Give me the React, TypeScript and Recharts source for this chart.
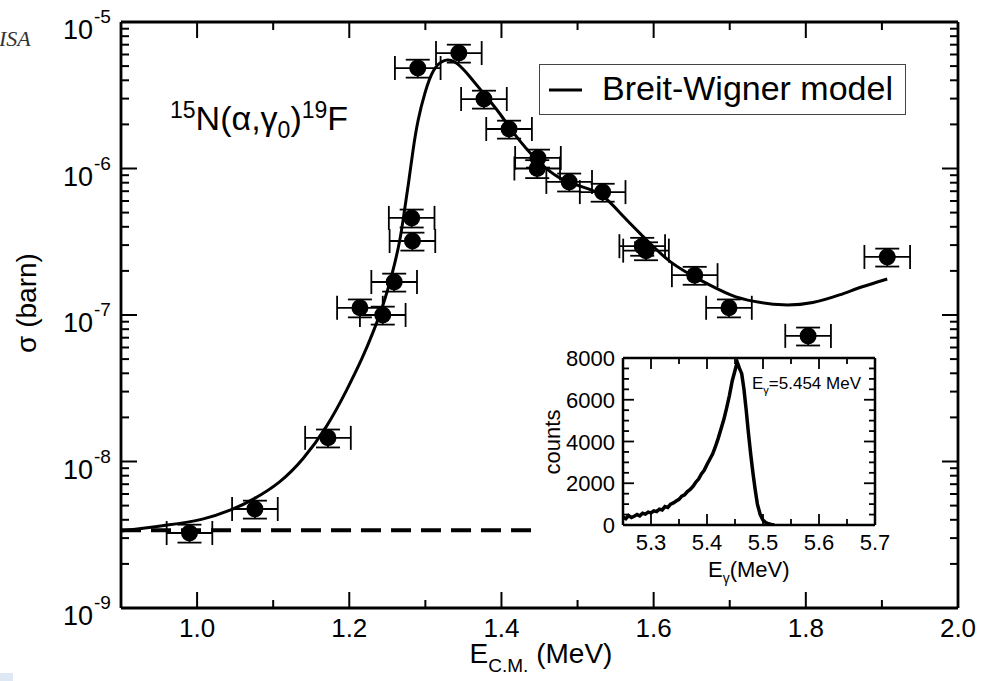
import React from 'react';
import { ComposedChart, LineChart, Line, Scatter, XAxis, YAxis, ErrorBar, Legend } from 'recharts';

const FONT = '"Liberation Sans", Arial, Helvetica, sans-serif';

// ---- measured cross sections (main panel) ----
const energyMeV = [0.99, 1.076, 1.172, 1.214, 1.244, 1.259, 1.283, 1.282, 1.29, 1.344, 1.377, 1.41, 1.448, 1.447, 1.489, 1.533, 1.585, 1.59, 1.654, 1.699, 1.803, 1.907];
const sigmaBarn = [3.25e-9, 4.74e-9, 1.45e-8, 1.12e-7, 1.0e-7, 1.68e-7, 3.2e-7, 4.6e-7, 4.85e-6, 6.14e-6, 2.98e-6, 1.86e-6, 1.18e-6, 1.0e-6, 8.1e-7, 6.9e-7, 2.95e-7, 2.75e-7, 1.87e-7, 1.12e-7, 7.2e-8, 2.49e-7];
const energyErrMeV = [0.03, 0.03, 0.03, 0.03, 0.03, 0.03, 0.03, 0.03, 0.03, 0.03, 0.03, 0.03, 0.03, 0.03, 0.03, 0.03, 0.03, 0.03, 0.03, 0.03, 0.03, 0.03];
const sigmaRelErr = [0.14, 0.14, 0.14, 0.14, 0.14, 0.14, 0.14, 0.14, 0.14, 0.14, 0.14, 0.14, 0.14, 0.14, 0.14, 0.14, 0.14, 0.14, 0.14, 0.14, 0.14, 0.14];

// ---- Breit-Wigner model curve ----
const modelEnergyMeV = [0.9, 0.964, 1.008, 1.046, 1.073, 1.109, 1.139, 1.171, 1.197, 1.218, 1.231, 1.244, 1.257, 1.267, 1.272, 1.278, 1.284, 1.29, 1.299, 1.31, 1.326, 1.342, 1.359, 1.376, 1.398, 1.415, 1.447, 1.477, 1.507, 1.533, 1.56, 1.591, 1.621, 1.661, 1.704, 1.73, 1.77, 1.81, 1.845, 1.875, 1.907];
const modelSigmaBarn = [3.36e-9, 3.69e-9, 3.99e-9, 4.67e-9, 5.46e-9, 7.13e-9, 1.02e-8, 1.72e-8, 3.08e-8, 5.17e-8, 7.54e-8, 1.13e-7, 1.94e-7, 3.25e-7, 4.97e-7, 7.96e-7, 1.38e-6, 2.14e-6, 3.28e-6, 4.85e-6, 5.68e-6, 5.33e-6, 4.21e-6, 3.28e-6, 2.39e-6, 1.75e-6, 1.11e-6, 8.35e-7, 7.48e-7, 6.8e-7, 4.67e-7, 3.25e-7, 2.26e-7, 1.73e-7, 1.33e-7, 1.24e-7, 1.15e-7, 1.2e-7, 1.37e-7, 1.57e-7, 1.76e-7];

// ---- background level (dashed) ----
const backgroundEnergyMeV = [0.9, 1.44];
const backgroundSigmaBarn = [3.4e-9, 3.4e-9];

// ---- main axis ticks ----
const xMajorTicks = [1.0, 1.2, 1.4, 1.6, 1.8, 2.0];
const xMinorTicks = [1.1, 1.3, 1.5, 1.7, 1.9];
const yDecadeTicks = [1e-9, 1e-8, 1e-7, 1e-6, 1e-5];
const yDecadeExponents = ['-9', '-8', '-7', '-6', '-5'];
const yMinorMantissas = [2, 3, 4, 5, 6, 7, 8, 9];

// ---- inset gamma spectrum ----
const spectrumEnergyMeV = [5.25, 5.255, 5.26, 5.265, 5.27, 5.275, 5.28, 5.285, 5.29, 5.295, 5.3, 5.305, 5.31, 5.315, 5.32, 5.325, 5.33, 5.335, 5.34, 5.345, 5.35, 5.355, 5.36, 5.365, 5.37, 5.375, 5.38, 5.385, 5.39, 5.395, 5.4, 5.405, 5.41, 5.415, 5.42, 5.425, 5.43, 5.435, 5.44, 5.445, 5.45, 5.454, 5.458, 5.462, 5.466, 5.47, 5.474, 5.478, 5.482, 5.486, 5.49, 5.495, 5.5, 5.505, 5.51, 5.515, 5.52];
const spectrumCounts = [380, 300, 450, 360, 420, 500, 440, 560, 520, 620, 580, 680, 640, 760, 720, 880, 840, 1000, 1060, 1150, 1230, 1380, 1450, 1600, 1700, 1850, 2050, 2200, 2450, 2620, 2900, 3150, 3400, 3750, 4150, 4600, 5050, 5600, 6200, 6900, 7400, 7800, 7500, 7250, 6500, 5500, 4400, 3400, 2500, 1700, 1000, 500, 230, 120, 60, 30, 10];
const insetXMajorTicks = [5.3, 5.4, 5.5, 5.6, 5.7];
const insetXMinorTicks = [5.35, 5.45, 5.55, 5.65];
const insetYMajorTicks = [0, 2000, 4000, 6000, 8000];
const insetYMinorTicks = [500, 1000, 1500, 2500, 3000, 3500, 4500, 5000, 5500, 6500, 7000, 7500];

// ---- tables built from the arrays ----
const pointData = energyMeV.map((e, i) => ({
  x: e,
  y: sigmaBarn[i],
  ex: energyErrMeV[i],
  ey: [sigmaBarn[i] * sigmaRelErr[i], sigmaBarn[i] * sigmaRelErr[i]],
}));
const modelData = modelEnergyMeV.map((e, i) => ({ x: e, y: modelSigmaBarn[i] }));
const backgroundData = backgroundEnergyMeV.map((e, i) => ({ x: e, y: backgroundSigmaBarn[i] }));
const spectrumData = spectrumEnergyMeV.map((e, i) => ({ x: e, y: spectrumCounts[i] }));

const xTicks = [...xMajorTicks, ...xMinorTicks].sort((a, b) => a - b);
const yTicks: number[] = [];
yDecadeTicks.forEach((d, i) => {
  yTicks.push(d);
  if (i < yDecadeTicks.length - 1) yMinorMantissas.forEach((m) => yTicks.push(d * m));
});
const insetXTicks = [...insetXMajorTicks, ...insetXMinorTicks].sort((a, b) => a - b);
const insetYTicks = [...insetYMajorTicks, ...insetYMinorTicks].sort((a, b) => a - b);

// ---- tick renderers (inward ticks) ----
const MainBottomTick = (p: any) => {
  const v = p.payload.value;
  const major = xMajorTicks.indexOf(v) >= 0;
  return (
    <g>
      <line x1={p.x} y1={p.y} x2={p.x} y2={p.y - (major ? 16 : 8)} stroke="#000" strokeWidth={2} />
      {major && (
        <text x={p.x} y={p.y + 29} textAnchor="middle" fontSize={26} fontFamily={FONT} fill="#000">
          {v.toFixed(1)}
        </text>
      )}
    </g>
  );
};
const MainTopTick = (p: any) => {
  const major = xMajorTicks.indexOf(p.payload.value) >= 0;
  return <line x1={p.x} y1={p.y} x2={p.x} y2={p.y + (major ? 16 : 8)} stroke="#000" strokeWidth={2} />;
};
const MainLeftTick = (p: any) => {
  const i = yDecadeTicks.indexOf(p.payload.value);
  const major = i >= 0;
  return (
    <g>
      <line x1={p.x} y1={p.y} x2={p.x + (major ? 16 : 8)} y2={p.y} stroke="#000" strokeWidth={2} />
      {major && (
        <g>
          <text x={p.x - 28} y={p.y + 17} textAnchor="end" fontSize={27} fontFamily={FONT} fill="#000">10</text>
          <text x={p.x - 27} y={p.y + 1} textAnchor="start" fontSize={19} fontFamily={FONT} fill="#000">{yDecadeExponents[i]}</text>
        </g>
      )}
    </g>
  );
};
const MainRightTick = (p: any) => {
  const major = yDecadeTicks.indexOf(p.payload.value) >= 0;
  return <line x1={p.x} y1={p.y} x2={p.x - (major ? 16 : 8)} y2={p.y} stroke="#000" strokeWidth={2} />;
};

const InsetBottomTick = (p: any) => {
  const v = p.payload.value;
  const major = insetXMajorTicks.indexOf(v) >= 0;
  return (
    <g>
      <line x1={p.x} y1={p.y} x2={p.x} y2={p.y - (major ? 11 : 6)} stroke="#000" strokeWidth={1.8} />
      {major && (
        <text x={p.x} y={p.y + 25} textAnchor="middle" fontSize={22} fontFamily={FONT} fill="#000">
          {v.toFixed(1)}
        </text>
      )}
    </g>
  );
};
const InsetTopTick = (p: any) => {
  const major = insetXMajorTicks.indexOf(p.payload.value) >= 0;
  return <line x1={p.x} y1={p.y} x2={p.x} y2={p.y + (major ? 11 : 6)} stroke="#000" strokeWidth={1.8} />;
};
const InsetLeftTick = (p: any) => {
  const v = p.payload.value;
  const major = insetYMajorTicks.indexOf(v) >= 0;
  return (
    <g>
      <line x1={p.x} y1={p.y} x2={p.x + (major ? 11 : 6)} y2={p.y} stroke="#000" strokeWidth={1.8} />
      {major && (
        <text x={p.x - 8} y={p.y + 8} textAnchor="end" fontSize={22} fontFamily={FONT} fill="#000">
          {String(v)}
        </text>
      )}
    </g>
  );
};
const InsetRightTick = (p: any) => {
  const major = insetYMajorTicks.indexOf(p.payload.value) >= 0;
  return <line x1={p.x} y1={p.y} x2={p.x - (major ? 11 : 6)} y2={p.y} stroke="#000" strokeWidth={1.8} />;
};

const Dot = (p: any) => <circle cx={p.cx} cy={p.cy} r={8.5} fill="#000" />;

const LegendBox = () => (
  <div
    style={{
      boxSizing: 'border-box',
      width: 367,
      height: 51,
      border: '1.5px solid #444',
      background: '#fff',
      display: 'flex',
      alignItems: 'center',
      fontFamily: FONT,
      fontSize: 34,
      color: '#000',
      lineHeight: '51px',
    }}
  >
    <svg width={53} height={10} style={{ marginLeft: 9, flex: 'none' }}>
      <line x1={0} y1={5} x2={33} y2={5} stroke="#000" strokeWidth={3} />
    </svg>
    <span style={{ marginTop: -2 }}>Breit-Wigner model</span>
  </div>
);

const axisLineStyle = { stroke: '#000', strokeWidth: 2.8 };
const insetAxisLineStyle = { stroke: '#000', strokeWidth: 2.5 };

export default function App() {
  return (
    <div style={{ position: 'absolute', left: 0, top: 0, width: 982, height: 681, background: '#fff', overflow: 'hidden' }}>
      <ComposedChart width={982} height={681} margin={{ top: 21, right: 23, bottom: 0, left: 0 }}>
        <XAxis
          dataKey="x"
          type="number"
          domain={[0.9, 2.0]}
          allowDataOverflow
          ticks={xTicks}
          interval={0}
          tickSize={0}
          tickMargin={0}
          tickLine={false}
          axisLine={axisLineStyle}
          tick={MainBottomTick}
          height={73}
        />
        <XAxis
          xAxisId="top"
          orientation="top"
          dataKey="x"
          type="number"
          domain={[0.9, 2.0]}
          allowDataOverflow
          ticks={xTicks}
          interval={0}
          tickSize={0}
          tickMargin={0}
          tickLine={false}
          axisLine={axisLineStyle}
          tick={MainTopTick}
          height={1}
        />
        <YAxis
          type="number"
          scale="log"
          domain={[1e-9, 1e-5]}
          allowDataOverflow
          ticks={yTicks}
          interval={0}
          tickSize={0}
          tickMargin={0}
          tickLine={false}
          axisLine={axisLineStyle}
          tick={MainLeftTick}
          width={121}
        />
        <YAxis
          yAxisId="right"
          orientation="right"
          type="number"
          scale="log"
          domain={[1e-9, 1e-5]}
          allowDataOverflow
          ticks={yTicks}
          interval={0}
          tickSize={0}
          tickMargin={0}
          tickLine={false}
          axisLine={axisLineStyle}
          tick={MainRightTick}
          width={1}
        />
        <Legend
          layout="horizontal"
          verticalAlign="middle"
          align="center"
          content={LegendBox}
          wrapperStyle={{ left: 539, top: 64, width: 367, height: 51 }}
        />
        <Line
          data={backgroundData}
          dataKey="y"
          type="linear"
          stroke="#000"
          strokeWidth={4}
          strokeDasharray="20 10"
          dot={false}
          legendType="none"
          isAnimationActive={false}
        />
        <Line
          data={modelData}
          dataKey="y"
          name="Breit-Wigner model"
          type="basis"
          stroke="#000"
          strokeWidth={3}
          dot={false}
          isAnimationActive={false}
        />
        <Scatter data={pointData} dataKey="y" shape={Dot} fill="#000" legendType="none" isAnimationActive={false}>
          <ErrorBar dataKey="ex" direction="x" width={12} stroke="#000" strokeWidth={1.8} />
          <ErrorBar dataKey="ey" direction="y" width={12} stroke="#000" strokeWidth={1.8} />
        </Scatter>
      </ComposedChart>

      <div style={{ position: 'absolute', left: 540, top: 340 }}>
        <LineChart width={350} height={250} margin={{ top: 17, right: 14, bottom: 0, left: 0 }}>
          <XAxis
            dataKey="x"
            type="number"
            domain={[5.25, 5.7]}
            allowDataOverflow
            ticks={insetXTicks}
            interval={0}
            tickSize={0}
            tickMargin={0}
            tickLine={false}
            axisLine={insetAxisLineStyle}
            tick={InsetBottomTick}
            height={65}
          />
          <XAxis
            xAxisId="top"
            orientation="top"
            dataKey="x"
            type="number"
            domain={[5.25, 5.7]}
            allowDataOverflow
            ticks={insetXTicks}
            interval={0}
            tickSize={0}
            tickMargin={0}
            tickLine={false}
            axisLine={insetAxisLineStyle}
            tick={InsetTopTick}
            height={1}
          />
          <YAxis
            type="number"
            domain={[0, 8000]}
            allowDataOverflow
            ticks={insetYTicks}
            interval={0}
            tickSize={0}
            tickMargin={0}
            tickLine={false}
            axisLine={insetAxisLineStyle}
            tick={InsetLeftTick}
            width={83}
          />
          <YAxis
            yAxisId="right"
            orientation="right"
            type="number"
            domain={[0, 8000]}
            allowDataOverflow
            ticks={insetYTicks}
            interval={0}
            tickSize={0}
            tickMargin={0}
            tickLine={false}
            axisLine={insetAxisLineStyle}
            tick={InsetRightTick}
            width={1}
          />
          <Line
            data={spectrumData}
            dataKey="y"
            type="linear"
            stroke="#000"
            strokeWidth={3.5}
            dot={false}
            isAnimationActive={false}
          />
        </LineChart>
      </div>

      <svg width={982} height={681} style={{ position: 'absolute', left: 0, top: 0, pointerEvents: 'none' }}>
        <text x={-1} y={46} fontFamily='"Liberation Serif", serif' fontStyle="italic" fontSize={22} fill="#333">ISA</text>
        <rect x={0} y={673} width={13} height={8} fill="#dde8f4" />
        <text x={170} y={130} fontFamily={FONT} fontSize={34} fill="#000">
          <tspan fontSize={23} dy={-12}>15</tspan>
          <tspan dy={12}>N(α,γ</tspan>
          <tspan fontSize={23} dy={8}>0</tspan>
          <tspan dy={-8}>)</tspan>
          <tspan fontSize={23} dy={-12}>19</tspan>
          <tspan dy={12}>F</tspan>
        </text>
        <text x={36} y={303} transform="rotate(-90 36 303)" textAnchor="middle" fontFamily={FONT} fontSize={28} fill="#000">σ (barn)</text>
        <text x={541} y={663} textAnchor="middle" fontFamily={FONT} fontSize={28} fill="#000">
          E<tspan fontSize={19} dy={9}>C.M.</tspan><tspan dy={-9}> (MeV)</tspan>
        </text>
        <text x={560} y={442} transform="rotate(-90 560 442)" textAnchor="middle" fontFamily={FONT} fontSize={22} fill="#000">counts</text>
        <text x={708} y={577} fontFamily={FONT} fontSize={22} fill="#000">
          E<tspan fontSize={14} dy={6}>γ</tspan><tspan dy={-6}>(MeV)</tspan>
        </text>
        <text x={752} y={389} fontFamily={FONT} fontSize={17} fill="#000">
          E<tspan fontSize={11} dy={5}>γ</tspan><tspan dy={-5}>=5.454 MeV</tspan>
        </text>
      </svg>
    </div>
  );
}
